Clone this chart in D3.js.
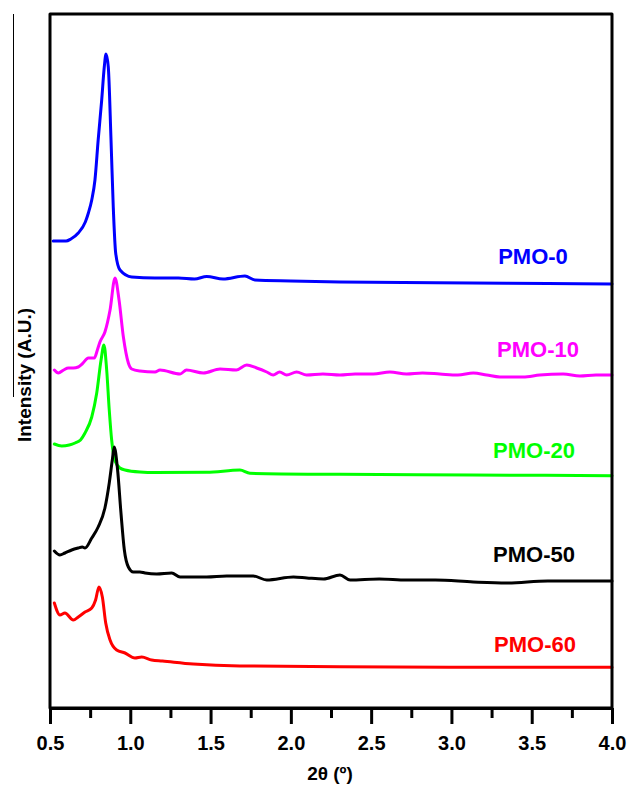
<!DOCTYPE html>
<html>
<head>
<meta charset="utf-8">
<script src="https://cdn.jsdelivr.net/npm/d3@7"></script>
<style>
  html, body { margin: 0; padding: 0; background: #fff; }
  svg { display: block; }
  text { font-family: Arial, "Liberation Sans", sans-serif; font-weight: bold; }
</style>
</head>
<body>
<svg id="chart" width="630" height="785"></svg>
<script>
// ---------- data ----------
const seriesNames = ["PMO-0", "PMO-10", "PMO-20", "PMO-50", "PMO-60"];
const seriesColors = ["#0000ff", "#ff00ff", "#00ff00", "#000000", "#ff0000"];

const xTickValues = [0.5, 1.0, 1.5, 2.0, 2.5, 3.0, 3.5, 4.0];
const xTickLabels = ["0.5", "1.0", "1.5", "2.0", "2.5", "3.0", "3.5", "4.0"];
const xMinorTicks = [0.75, 1.25, 1.75, 2.25, 2.75, 3.25, 3.75];

// intensity (a.u., stacked with offsets already included as plotted)
const pmo0 = [
  [0.52,467],[0.60,467],[0.63,469],[0.676,475],[0.72,486],[0.739,495],[0.76,508],[0.78,528],
  [0.80,568],[0.822,608],[0.838,641],[0.849,654],[0.863,641],[0.88,568],[0.894,501],
  [0.909,455],[0.936,438],[1.009,431],[1.154,430],[1.30,430],[1.40,429],[1.476,431.5],
  [1.578,429],[1.714,432],[1.776,428],[2.0,427],[2.306,426],[2.7,425.5],[3.13,425],[3.6,424.5],[4.0,424]
];
const pmo10 = [
  [0.527,338],[0.552,335],[0.585,338],[0.614,340],[0.645,340],[0.676,341],[0.70,344],
  [0.739,350],[0.776,350],[0.795,358],[0.811,366],[0.842,376],[0.874,398],[0.905,430],
  [0.93,408],[0.957,371],[0.988,345],[1.009,339],[1.06,337],[1.154,336],[1.185,338],
  [1.31,334],[1.35,338],[1.455,335],[1.559,339],[1.66,338],[1.725,343],[1.787,340],
  [1.85,336],[1.89,333],[1.93,336],[1.974,333],[2.036,336],[2.098,333],[2.2,334],
  [2.306,333],[2.4,334],[2.513,334],[2.617,336],[2.72,334],[2.82,335],[2.928,334],
  [3.04,333],[3.136,335],[3.22,333],[3.302,331],[3.447,331],[3.55,333],[3.696,334],
  [3.8,332],[3.9,333],[4.0,333]
];
const pmo20 = [
  [0.527,264],[0.573,262],[0.62,263],[0.656,265],[0.69,268],[0.718,275],[0.76,291],
  [0.791,315],[0.818,348],[0.836,363],[0.853,338],[0.869,298],[0.884,268],[0.905,247],
  [0.936,240],[0.967,238],[1.06,236],[1.154,235.5],[1.476,235.7],[1.683,238],[1.745,234.7],
  [2.306,233.7],[3.13,233],[4.0,232.3]
];
const pmo50 = [
  [0.527,157],[0.562,153],[0.593,155],[0.635,158],[0.676,160],[0.701,161],[0.718,160],
  [0.76,170],[0.80,181],[0.842,200],[0.869,225],[0.888,248],[0.90,261],[0.921,238],
  [0.942,195],[0.963,158],[0.988,141],[1.019,136],[1.06,136],[1.092,135],[1.164,134],
  [1.258,135],[1.31,131],[1.476,131],[1.6,132],[1.766,132],[1.85,128],[2.016,131],
  [2.1,130],[2.203,129],[2.306,133],[2.369,128],[2.55,129],[2.72,128],[2.9,128],
  [3.136,126],[3.344,125],[3.6,127],[3.8,127],[4.0,127]
];
const pmo60 = [
  [0.527,105],[0.562,93],[0.593,95],[0.645,88],[0.676,91],[0.718,96],[0.76,100],
  [0.784,108],[0.805,121],[0.826,111],[0.847,85],[0.874,68],[0.915,58],[0.967,55],
  [1.029,50],[1.071,51],[1.133,48],[1.2,47],[1.392,44],[1.683,42],[2.306,41.3],
  [3.13,40.7],[4.0,40.7]
];
const allSeries = [pmo0, pmo10, pmo20, pmo50, pmo60];

// ---------- layout ----------
const svg = d3.select("#chart");
const plotLeft = 50, plotRight = 612, plotTop = 14, plotBottom = 708;

const x = d3.scaleLinear().domain([0.5, 4.0]).range([plotLeft, plotRight]);
const y = d3.scaleLinear().domain([0, 694]).range([plotBottom, plotTop]);

// stray vertical line at the far left of the original image
svg.append("line")
  .attr("x1", 13.5).attr("x2", 13.5).attr("y1", 14).attr("y2", 397)
  .attr("stroke", "#000").attr("stroke-width", 1);

// curves
const line = d3.line()
  .x(d => x(d[0]))
  .y(d => y(d[1]))
  .curve(d3.curveMonotoneX);

svg.append("g").selectAll("path")
  .data(allSeries)
  .join("path")
  .attr("d", line)
  .attr("fill", "none")
  .attr("stroke", (d, i) => seriesColors[i])
  .attr("stroke-width", 3)
  .attr("stroke-linejoin", "round")
  .attr("stroke-linecap", "round");

// series labels
const labelOffsets = [20, 18, 18, 19, 15];
const labelX = [533, 538, 534, 534, 535];
svg.append("g").selectAll("text")
  .data(seriesNames)
  .join("text")
  .attr("x", (d, i) => labelX[i])
  .attr("y", (d, i) => y(allSeries[i][allSeries[i].length - 1][1]) - labelOffsets[i])
  .attr("text-anchor", "middle")
  .attr("font-size", 22)
  .attr("fill", (d, i) => seriesColors[i])
  .text(d => d);

// frame
svg.append("rect")
  .attr("x", plotLeft).attr("y", plotTop)
  .attr("width", plotRight - plotLeft).attr("height", plotBottom - plotTop)
  .attr("fill", "none")
  .attr("stroke", "#000")
  .attr("stroke-width", 3)
  .attr("stroke-linejoin", "round");

// x axis major
const gx = svg.append("g")
  .attr("transform", `translate(0,${plotBottom})`)
  .call(d3.axisBottom(x)
    .tickValues(xTickValues)
    .tickFormat((d, i) => xTickLabels[i])
    .tickSize(16)
    .tickSizeOuter(0)
    .tickPadding(12));
gx.select(".domain").attr("stroke", "#000").attr("stroke-width", 3);
gx.selectAll(".tick line").attr("stroke", "#000").attr("stroke-width", 3);
gx.selectAll(".tick text")
  .attr("font-size", 20)
  .attr("font-family", "Arial, 'Liberation Sans', sans-serif")
  .attr("font-weight", "bold")
  .attr("fill", "#000");

// x axis minor
const gxm = svg.append("g")
  .attr("transform", `translate(0,${plotBottom})`)
  .call(d3.axisBottom(x)
    .tickValues(xMinorTicks)
    .tickFormat("")
    .tickSize(10)
    .tickSizeOuter(0));
gxm.select(".domain").remove();
gxm.selectAll(".tick line").attr("stroke", "#000").attr("stroke-width", 3);

// axis titles
svg.append("text")
  .attr("x", (plotLeft + plotRight) / 2 - 1)
  .attr("y", 780)
  .attr("text-anchor", "middle")
  .attr("font-size", 19)
  .attr("fill", "#000")
  .text("2θ (º)");

svg.append("text")
  .attr("transform", "translate(31,375) rotate(-90)")
  .attr("text-anchor", "middle")
  .attr("font-size", 19)
  .attr("fill", "#000")
  .text("Intensity (A.U.)");
</script>
</body>
</html>
